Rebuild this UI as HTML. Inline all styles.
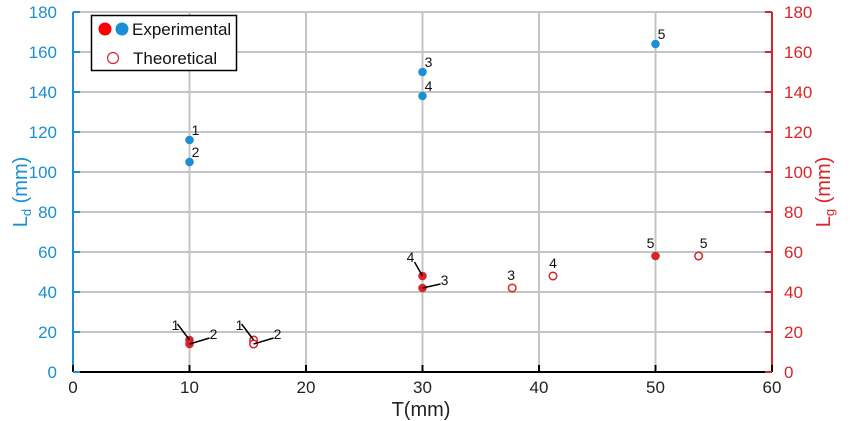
<!DOCTYPE html>
<html><head><meta charset="utf-8"><style>
body{margin:0;background:#fff;}
svg{display:block;font-family:"Liberation Sans",Arial,sans-serif;}
</style></head><body>
<svg id="c" width="850" height="421" viewBox="0 0 850 421"></svg>
<script>
const xTicks=[0,10,20,30,40,50,60];
const yTicks=[0,20,40,60,80,100,120,140,160,180];
const ldX=[10,10,30,30,50];
const ldY=[116,105,150,138,164];
const ldLabels=["1","2","3","4","5"];
const expX=[10,10,30,30,50];
const expY=[16,14,42,48,58];
const expLabels=["1","2","3","4","5"];
const thX=[15.5,15.5,37.7,41.2,53.7];
const thY=[16,14,42,48,58];
const thLabels=["1","2","3","4","5"];

const L=73,R=772,T=12,B=372;
const sx=v=>L+(v-0)/60*(R-L);
const sy=v=>B-(v-0)/180*(B-T);
const svg=document.getElementById('c');
const NS="http://www.w3.org/2000/svg";
function mk(tag,attrs,parent){const e=document.createElementNS(NS,tag);for(const k in attrs)e.setAttribute(k,attrs[k]);(parent||svg).appendChild(e);return e;}
const BLUE="#1a8fd6",RED="#d9252a";

for(const t of xTicks){if(t===0)continue;const g=mk('line',{x1:sx(t),x2:sx(t),y1:T,y2:B,stroke:'#c4c4c4','stroke-width':2});

}
for(const t of yTicks){if(t===0)continue;const g=mk('line',{x1:L,x2:R,y1:sy(t),y2:sy(t),stroke:'#c4c4c4','stroke-width':2});

}

const xa=mk('line',{x1:L,x2:R,y1:B,y2:B,stroke:'#000','stroke-width':2});


const yl=mk('line',{x1:L,x2:L,y1:T,y2:B,stroke:BLUE,'stroke-width':2});


const yr=mk('line',{x1:R,x2:R,y1:T,y2:B,stroke:RED,'stroke-width':2});



for(const t of xTicks){
 const tk=mk('line',{x1:sx(t),x2:sx(t),y1:B,y2:B-7,stroke:'#000','stroke-width':2});
 
 
 const tx=mk('text',{x:sx(t),y:393,'font-size':17,'text-anchor':'middle',fill:'#222'});tx.textContent=t;
 
 
}
for(const t of yTicks){
 const a=mk('line',{x1:L,x2:L+7,y1:sy(t),y2:sy(t),stroke:BLUE,'stroke-width':2});
 
 
 const b=mk('line',{x1:R,x2:R-7,y1:sy(t),y2:sy(t),stroke:RED,'stroke-width':2});
 
 
 const l=mk('text',{x:57,y:sy(t)+6,'font-size':17,'text-anchor':'end',fill:BLUE});l.textContent=t;
 
 
 const r=mk('text',{x:784,y:sy(t)+6,'font-size':17,'text-anchor':'start',fill:RED});r.textContent=t;
 
 
}

const xt=mk('text',{x:421,y:416,'font-size':20,'text-anchor':'middle',fill:'#222'});xt.textContent='T(mm)';


const ltitle=mk('text',{transform:'translate(27,192) rotate(-90)','font-size':20,'text-anchor':'middle',fill:BLUE});
ltitle.innerHTML='L<tspan font-size="13" dy="4">d</tspan><tspan dy="-4"> (mm)</tspan>';


const rtitle=mk('text',{transform:'translate(830,192) rotate(-90)','font-size':20,'text-anchor':'middle',fill:RED});
rtitle.innerHTML='L<tspan font-size="13" dy="4">g</tspan><tspan dy="-4"> (mm)</tspan>';



function label(x,y,txt,dx,dy,lead){
 if(lead){const ln=mk('line',{x1:x,y1:y,x2:x+lead[0],y2:y+lead[1],stroke:'#000','stroke-width':1.5});
 
 }
 const t=mk('text',{x:x+dx,y:y+dy,'font-size':14,'text-anchor':'middle',fill:'#111'});t.textContent=txt;
 
 
}

ldX.forEach((v,i)=>{
 const c=mk('circle',{cx:sx(v),cy:sy(ldY[i]),r:4.3,fill:BLUE});
 
 
 label(sx(v),sy(ldY[i]),ldLabels[i],6,-5,null);
});
const expOff=[[-14,-10,[-12,-16]],[24,-5,[20,-6]],[22,-3,[18,-4]],[-12,-14,[-8,-14]],[-5,-8,null]];
expX.forEach((v,i)=>{
 const c=mk('circle',{cx:sx(v),cy:sy(expY[i]),r:4.3,fill:RED});
 
 
 const o=expOff[i];label(sx(v),sy(expY[i]),expLabels[i],o[0],o[1],o[2]);
});
const thOff=[[-14,-10,[-12,-16]],[24,-5,[20,-6]],[-1,-8,null],[0,-8,null],[5,-8,null]];
thX.forEach((v,i)=>{
 const c=mk('circle',{cx:sx(v),cy:sy(thY[i]),r:3.8,fill:'#fff','fill-opacity':0.8,stroke:RED,'stroke-width':1.5});
 
 
 const o=thOff[i];label(sx(v),sy(thY[i]),thLabels[i],o[0],o[1],o[2]);
});

const lg=mk('g',{});


mk('rect',{x:91.5,y:15.5,width:145,height:55,fill:'#fff',stroke:'#000','stroke-width':1.5},lg);
mk('circle',{cx:105,cy:29,r:6.5,fill:'#f00'},lg);
mk('circle',{cx:122,cy:29,r:6.5,fill:BLUE},lg);
const le=mk('text',{x:132,y:35,'font-size':17,fill:'#111'},lg);le.textContent='Experimental';


mk('circle',{cx:113,cy:58,r:5.5,fill:'#fff',stroke:RED,'stroke-width':1.2},lg);
const lt=mk('text',{x:133,y:64,'font-size':17,fill:'#111'},lg);lt.textContent='Theoretical';


</script>
</body></html>
